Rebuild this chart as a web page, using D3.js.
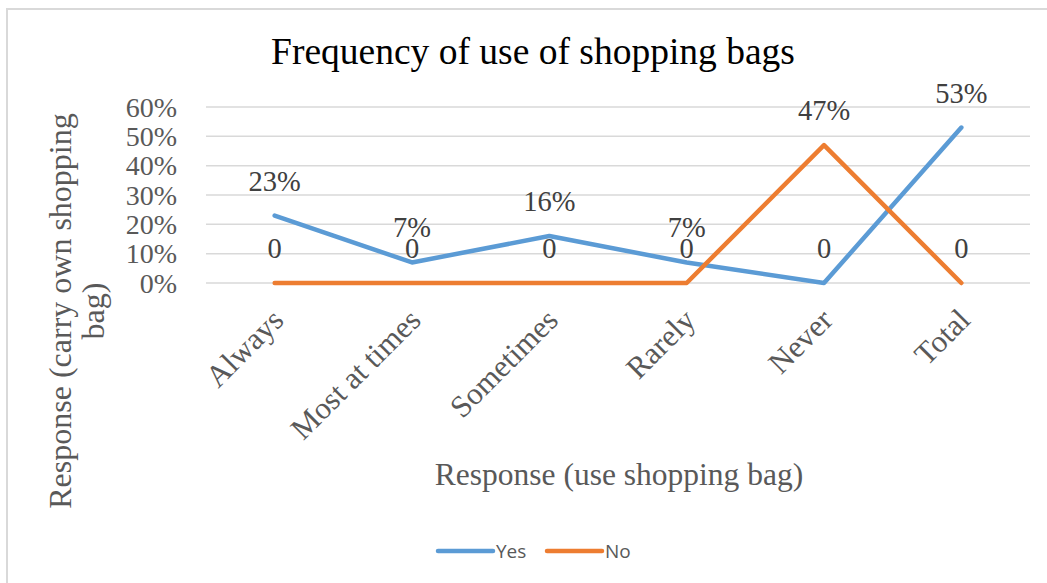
<!DOCTYPE html>
<html>
<head>
<meta charset="utf-8">
<script src="https://cdn.jsdelivr.net/npm/d3@7"></script>
<style>
  html, body { margin: 0; padding: 0; background: #fff; }
  svg { display: block; }
</style>
</head>
<body>
<div id="chart"></div>
<script>
const categories = ["Always", "Most at times", "Sometimes", "Rarely", "Never", "Total"];
const yesValues = [0.23, 0.07, 0.16, 0.07, 0.00, 0.53];
const noValues  = [0.00, 0.00, 0.00, 0.00, 0.47, 0.00];
const seriesNames = ["Yes", "No"];
const seriesColors = ["#5B9BD5", "#ED7D31"];
const yTicks = [0, 0.1, 0.2, 0.3, 0.4, 0.5, 0.6];
const titleText = "Frequency of use of shopping bags";
const xTitleLines = ["Response (use shopping bag)"];
const yTitleLines = ["Response (carry own shopping", "bag)"];

const W = 1047, H = 583;
const serif = "'Liberation Serif', 'Times New Roman', serif";
const svg = d3.select("#chart").append("svg").attr("width", W).attr("height", H);

svg.append("rect").attr("width", W).attr("height", H).attr("fill", "#fff");
svg.append("rect").attr("x", 7).attr("y", 9).attr("width", 1200).attr("height", 1000)
  .attr("fill", "none").attr("stroke", "#d9d9d9").attr("stroke-width", 2);

const x = d3.scalePoint().domain(categories).range([206, 1030]).padding(0.5);
const y = d3.scaleLinear().domain([0, 0.6]).range([283, 107]);
const pct = d3.format(".0%");
const lbl = v => v === 0 ? "0" : pct(v);

// gridlines
svg.append("g").selectAll("line").data(yTicks).join("line")
  .attr("x1", 206).attr("x2", 1030)
  .attr("y1", d => y(d)).attr("y2", d => y(d))
  .attr("stroke", "#d9d9d9").attr("stroke-width", 1.5);

// y axis tick labels
const yAxis = d3.axisLeft(y).tickValues(yTicks).tickFormat(pct).tickSize(0).tickPadding(0);
const gy = svg.append("g").attr("transform", "translate(177,0)").call(yAxis);
gy.select(".domain").remove();
gy.selectAll("text")
  .attr("font-family", serif).attr("font-size", 28).attr("fill", "#595959")
  .attr("dy", "0.33em");

// x axis category labels
const xAxis = d3.axisBottom(x).tickSize(0).tickPadding(0);
const gx = svg.append("g").attr("transform", "translate(0,283)").call(xAxis);
gx.select(".domain").remove();
gx.selectAll("text")
  .attr("font-family", serif).attr("font-size", 31).attr("fill", "#595959")
  .attr("text-anchor", "end").attr("dy", 0).attr("y", 0)
  .attr("transform", "translate(10,39) rotate(-45)");

// lines
const data = [yesValues, noValues];
const line = d3.line().x((d, i) => x(categories[i])).y(d => y(d));
svg.append("g").selectAll("path").data(data).join("path")
  .attr("d", line)
  .attr("fill", "none")
  .attr("stroke", (d, i) => seriesColors[i])
  .attr("stroke-width", 4.5)
  .attr("stroke-linecap", "round")
  .attr("stroke-linejoin", "round");

// data labels
data.forEach((vals, si) => {
  svg.append("g").selectAll("text").data(vals).join("text")
    .attr("x", (d, i) => x(categories[i]))
    .attr("y", d => y(d) - 25)
    .attr("text-anchor", "middle")
    .attr("font-family", serif).attr("font-size", 28.5).attr("fill", "#404040")
    .text(d => lbl(d));
});

// title
svg.append("text").attr("x", 533).attr("y", 64).attr("text-anchor", "middle")
  .attr("font-family", serif).attr("font-size", 37.5).attr("fill", "#000")
  .text(titleText);

// x axis title
svg.append("text").attr("x", 619).attr("y", 485).attr("text-anchor", "middle")
  .attr("font-family", serif).attr("font-size", 31.5).attr("fill", "#595959")
  .text(xTitleLines[0]);

// y axis title
const yt = svg.append("text").attr("transform", "translate(71,311) rotate(-90)")
  .attr("text-anchor", "middle")
  .attr("font-family", serif).attr("font-size", 32).attr("fill", "#595959");
yTitleLines.forEach((t, i) => {
  yt.append("tspan").attr("x", 0).attr("y", i * 33).text(t);
});

// legend
const legend = svg.append("g").attr("transform", "translate(438,551)");
const legX = [0, 109];
seriesNames.forEach((n, i) => {
  const g = legend.append("g").attr("transform", `translate(${legX[i]},0)`);
  g.append("line").attr("x1", 0).attr("x2", 55).attr("y1", 0).attr("y2", 0)
    .attr("stroke", seriesColors[i]).attr("stroke-width", 4.5).attr("stroke-linecap", "round");
  g.append("text").attr("x", 58).attr("y", 0).attr("dy", "0.35em")
    .attr("font-family", "'Open Sans', 'Liberation Sans', sans-serif").attr("font-size", 19)
    .attr("fill", "#595959").text(n);
});
</script>
</body>
</html>
